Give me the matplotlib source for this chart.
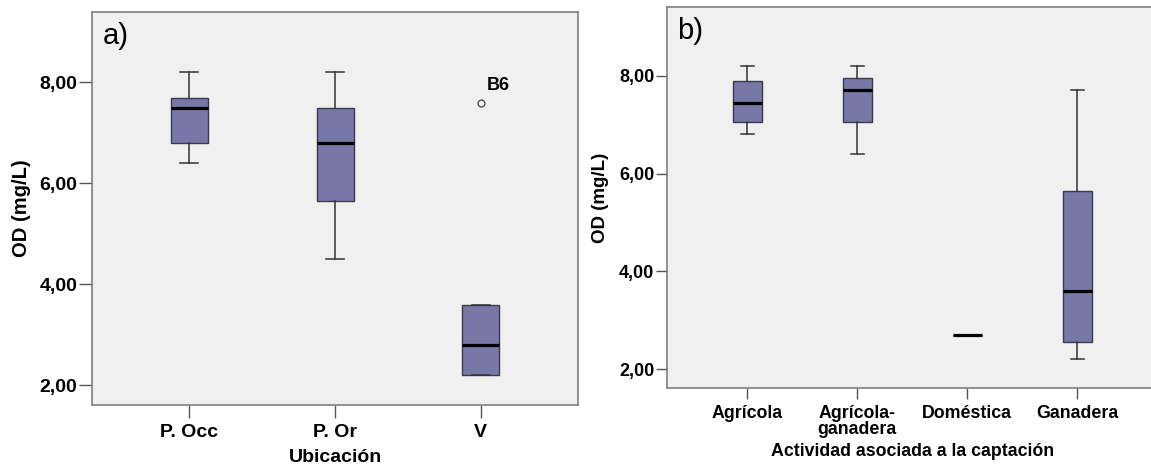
import matplotlib
matplotlib.use("Agg")
import matplotlib.pyplot as plt
from matplotlib.ticker import FuncFormatter

# --- OD (mg/L) by location ---
loc_labels = ["P. Occ", "P. Or", "V"]
loc_whislo = [6.4, 4.5, 2.2]
loc_q1 = [6.8, 5.65, 2.2]
loc_med = [7.5, 6.8, 2.8]
loc_q3 = [7.7, 7.5, 3.6]
loc_whishi = [8.2, 8.2, 3.6]
loc_fliers = [[], [], [7.6]]
loc_flier_ids = [[], [], ["B6"]]

# --- OD (mg/L) by activity linked to the water intake ---
act_labels = ["Agrícola", "Agrícola-\nganadera", "Doméstica", "Ganadera"]
act_whislo = [6.8, 6.4, 2.7, 2.2]
act_q1 = [7.05, 7.05, 2.7, 2.55]
act_med = [7.45, 7.7, 2.7, 3.6]
act_q3 = [7.9, 7.95, 2.7, 5.65]
act_whishi = [8.2, 8.2, 2.7, 7.7]

y_ticks = [2, 4, 6, 8]

plt.rcParams["font.family"] = ["Liberation Sans", "DejaVu Sans"]

BOX_FILL = "#7878a8"
BOX_EDGE = "#3a3a4a"
LINE = "#333333"
SPINE = "#808080"
PANEL_BG = "#f0f0f0"


def make_stats(labels, lo, q1, med, q3, hi, fliers=None):
    out = []
    for i, lab in enumerate(labels):
        out.append(dict(label=lab, whislo=lo[i], q1=q1[i], med=med[i],
                        q3=q3[i], whishi=hi[i],
                        fliers=(fliers[i] if fliers else [])))
    return out


def draw_panel(ax, stats, width, capw, xlim, fs, ylab_fs, ticklen, letter):
    n = len(stats)
    ax.bxp(stats, positions=range(n), widths=width, capwidths=capw,
           patch_artist=True, showfliers=True,
           boxprops=dict(facecolor=BOX_FILL, edgecolor=BOX_EDGE, linewidth=1.0),
           medianprops=dict(color="black", linewidth=2.3, solid_capstyle="butt"),
           whiskerprops=dict(color=LINE, linewidth=1.1),
           capprops=dict(color=LINE, linewidth=1.1),
           flierprops=dict(marker="o", markerfacecolor="none",
                           markeredgecolor="#444444", markersize=5,
                           markeredgewidth=0.9))
    ax.set_facecolor(PANEL_BG)
    ax.set_xlim(*xlim)
    ax.set_ylim(1.61, 9.40)
    ax.set_yticks(y_ticks)
    ax.yaxis.set_major_formatter(
        FuncFormatter(lambda v, p: f"{v:.2f}".replace(".", ",")))
    for s in ax.spines.values():
        s.set_color(SPINE)
        s.set_linewidth(1.2)
    ax.tick_params(axis="y", direction="out", length=ticklen, width=1.0,
                   color="#555555", pad=1, labelsize=fs)
    ax.tick_params(axis="x", direction="out", length=ticklen, width=1.0,
                   color="#555555", pad=4, labelsize=fs)
    for t in ax.get_xticklabels() + ax.get_yticklabels():
        t.set_fontweight("bold")
    ax.set_ylabel("OD (mg/L)", fontsize=ylab_fs, fontweight="bold")
    ax.text(0.022, 0.975, letter, transform=ax.transAxes, fontsize=21,
            ha="left", va="top")


fig = plt.figure(figsize=(11.51, 4.68), dpi=100)

ax1 = fig.add_axes([0.0797, 0.1346, 0.4228, 0.8404])
stats1 = make_stats(loc_labels, loc_whislo, loc_q1, loc_med, loc_q3,
                    loc_whishi, loc_fliers)
draw_panel(ax1, stats1, 0.254, 0.125, (-0.67, 2.67), 14, 14.5, 9.5, "a)")
ax1.set_xlabel("Ubicación", fontsize=14, fontweight="bold", labelpad=6)
ax1.yaxis.labelpad = 6
for i, (vals, ids) in enumerate(zip(loc_fliers, loc_flier_ids)):
    for v, name in zip(vals, ids):
        ax1.annotate(name, xy=(i, v), xytext=(4, 6), textcoords="offset points",
                     fontsize=13, fontweight="bold", ha="left", va="bottom")

ax2 = fig.add_axes([0.5792, 0.1703, 0.4269, 0.8141])
stats2 = make_stats(act_labels, act_whislo, act_q1, act_med, act_q3,
                    act_whishi)
draw_panel(ax2, stats2, 0.26, 0.12, (-0.733, 3.733), 13, 13.5, 8, "b)")
ax2.set_xlabel("Actividad asociada a la captación", fontsize=12.8,
               fontweight="bold", labelpad=4)
ax2.yaxis.labelpad = 7
for t in ax2.get_xticklabels():
    t.set_fontsize(12.8)
    t.set_linespacing(0.9)

fig.savefig("out.png", dpi=100, facecolor="white")
